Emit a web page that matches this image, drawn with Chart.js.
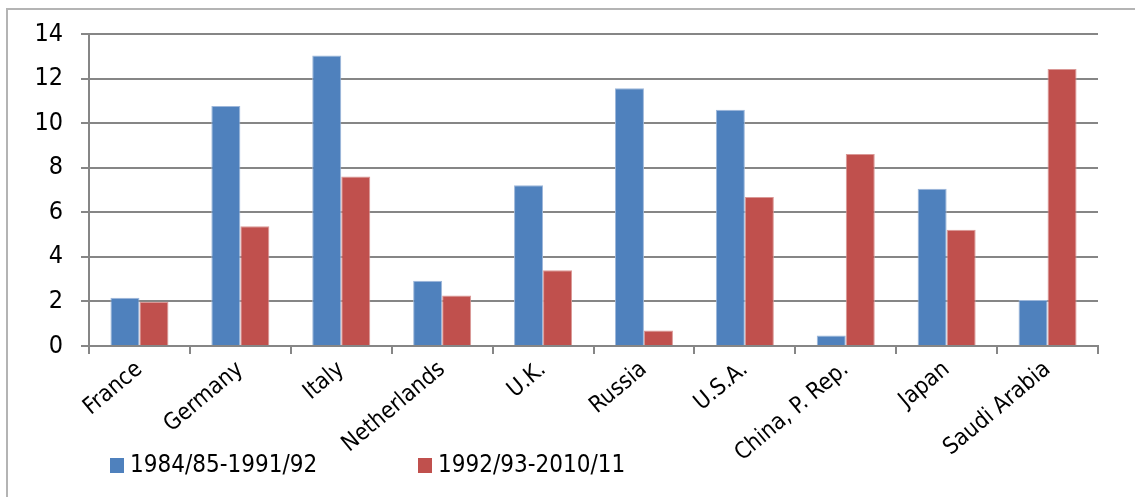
<!DOCTYPE html>
<html>
<head>
<meta charset="utf-8">
<title>Bar chart</title>
<script src="https://cdn.jsdelivr.net/npm/chart.js@4/dist/chart.umd.min.js"></script>
<style>
    html, body { margin: 0; padding: 0; background: #fff; }
    #wrap { position: relative; width: 1135px; height: 497px; overflow: hidden; }
    #frame { position: absolute; left: 6px; top: 8px; width: 1140px; height: 500px; border: 2px solid #b4b4b4; box-sizing: border-box; }
    #chart { position: absolute; left: 0; top: 0; }
    .legend-item { position: absolute; top: 450px; font-family: 'Liberation Sans Narrow', 'DejaVu Sans Condensed', 'Liberation Sans', sans-serif; font-size: 24px; color: #000; white-space: nowrap; }
    .legend-box { display: inline-block; width: 14px; height: 15px; margin-right: 6px; vertical-align: -1px; }
</style>
</head>
<body>
<div id="wrap">
    <div id="frame"></div>
    <canvas id="chart" width="1135" height="497"></canvas>
    <div id="legend"></div>
</div>
<script>
    // Categories
    const countries = ['France', 'Germany', 'Italy', 'Netherlands', 'U.K.', 'Russia', 'U.S.A.', 'China, P. Rep.', 'Japan', 'Saudi Arabia'];

    // Series values
    const period1 = [2.17, 10.77, 13.04, 2.93, 7.21, 11.57, 10.6, 0.47, 7.06, 2.06];
    const period2 = [1.98, 5.37, 7.61, 2.27, 3.40, 0.70, 6.69, 8.61, 5.22, 12.43];

    // Series labels
    const seriesLabels = ['1984/85-1991/92', '1992/93-2010/11'];

    // Y axis ticks
    const yTicks = [0, 2, 4, 6, 8, 10, 12, 14];

    const FONT = "'Liberation Sans Narrow', 'DejaVu Sans Condensed', 'Liberation Sans', sans-serif";
    const GRID = '#868686';

    const colors = ['#4F81BD', '#C0504D'];
    const edges = ['#9DB7DA', '#DA9896'];

    const chart = new Chart(document.getElementById('chart'), {
        type: 'bar',
        data: {
            labels: countries,
            datasets: [
                {
                    label: seriesLabels[0],
                    data: period1,
                    backgroundColor: colors[0],
                    borderColor: edges[0],
                    borderWidth: 1
                },
                {
                    label: seriesLabels[1],
                    data: period2,
                    backgroundColor: colors[1],
                    borderColor: edges[1],
                    borderWidth: 1
                }
            ]
        },
        options: {
            responsive: false,
            animation: false,
            layout: {
                padding: { left: 0, top: 34, right: 37, bottom: 0 }
            },
            plugins: {
                legend: { display: false },
                tooltip: { enabled: false }
            },
            datasets: {
                bar: {
                    categoryPercentage: 0.575,
                    barPercentage: 1
                }
            },
            scales: {
                x: {
                    grid: {
                        offset: true,
                        drawOnChartArea: false,
                        drawTicks: true,
                        tickLength: 8,
                        color: GRID,
                        lineWidth: 2
                    },
                    border: { color: GRID, width: 2 },
                    ticks: {
                        color: '#000',
                        font: { family: FONT, size: 23 },
                        minRotation: 40,
                        maxRotation: 40,
                        autoSkip: false,
                        padding: 2
                    },
                    afterFit: function(scale) {
                        scale.height = 497 - 346;
                    }
                },
                y: {
                    min: yTicks[0],
                    max: yTicks[yTicks.length - 1],
                    afterBuildTicks: function(scale) {
                        scale.ticks = yTicks.map(v => ({ value: v }));
                    },
                    grid: {
                        color: GRID,
                        lineWidth: 2,
                        tickLength: 8
                    },
                    border: { color: GRID, width: 2 },
                    ticks: {
                        color: '#000',
                        font: { family: FONT, size: 25 },
                        padding: 18
                    },
                    afterFit: function(scale) {
                        scale.width = 89;
                    }
                }
            }
        }
    });

    // HTML legend built from the datasets
    const legendPos = [110, 418];
    const legend = document.getElementById('legend');
    chart.data.datasets.forEach(function(ds, i) {
        const item = document.createElement('div');
        item.className = 'legend-item';
        item.style.left = legendPos[i] + 'px';
        const box = document.createElement('span');
        box.className = 'legend-box';
        box.style.background = ds.backgroundColor;
        item.appendChild(box);
        item.appendChild(document.createTextNode(ds.label));
        legend.appendChild(item);
    });
</script>
</body>
</html>
